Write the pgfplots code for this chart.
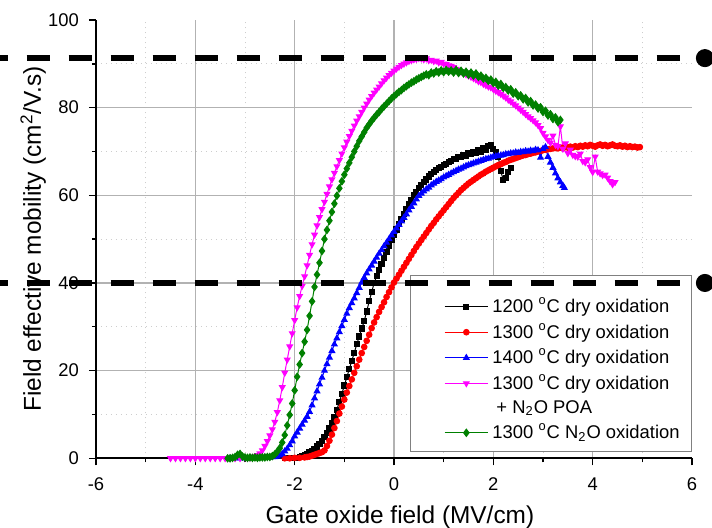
\documentclass[border=0pt]{standalone}
\usepackage{fontspec}
\setmainfont{Liberation Sans}
\usepackage{pgfplots}
\pgfplotsset{compat=1.18}
\definecolor{cK}{RGB}{0,0,0}
\definecolor{cR}{RGB}{255,0,0}
\definecolor{cB}{RGB}{0,0,255}
\definecolor{cM}{RGB}{255,0,255}
\definecolor{cG}{RGB}{0,128,0}
\definecolor{gridmaj}{RGB}{178,178,178}
\definecolor{gridmin}{RGB}{205,205,205}
\pgfplotsset{
 base/.style={width=298pt,height=219.15pt,scale only axis,xmin=-6,xmax=6,ymin=0,ymax=100},
}
\begin{document}
\begin{tikzpicture}
\begin{axis}[base,
 axis x line*=bottom, axis y line*=left, axis line style={line width=0.8pt,-},
 tick align=outside, major tick length=3.5pt, minor tick length=2pt,
 tick style={line width=0.7pt, black},
 xtick={-6,-4,-2,0,2,4}, extra x ticks={6}, extra x tick style={grid=none},
 ytick={0,20,40,60,80}, extra y ticks={100}, extra y tick style={grid=none},
 minor xtick={-5,-3,-1,1,3,5}, minor ytick={10,30,50,70,90},
 grid=both,
 major grid style={gridmaj, line width=0.6pt},
 minor grid style={gridmin, line width=0.5pt, dotted},
 ticklabel style={font=\fontsize{9.2}{11}\selectfont},
 xticklabel style={yshift=-2.5pt},
 yticklabel style={xshift=-1.5pt},
 /pgf/number format/assume math mode=true,
 xlabel={Gate oxide field (MV/cm)},
 ylabel={Field effective mobility (cm\textsuperscript{2}/V.s)},
 label style={font=\fontsize{12.2}{14}\selectfont},
 xlabel style={at={(axis description cs:0.51,-0.149)}, anchor=base},
 ylabel style={at={(axis description cs:-0.0923,0.5)}, anchor=base},
 legend style={at={(rel axis cs:1,0.0144)}, anchor=south east, draw=gray, fill=white,
   font=\fontsize{9.2}{11}\selectfont, inner xsep=4pt, inner ysep=3pt, row sep=0pt,
   nodes={inner ysep=2pt}, cells={anchor=west}},
 legend image code/.code={\path (-0.45cm,0cm); \draw[mark repeat=2,mark phase=2,#1] plot coordinates {(0cm,0cm) (0.38cm,0cm) (0.76cm,0cm)};},
]
\addlegendimage{empty legend}
\addlegendentry[inner ysep=0pt, text height=6pt, text depth=0pt]{}
\addplot[cK, line width=0.5pt, mark=square*, mark size=1.3pt, mark options={solid,fill=cK}] coordinates {
(-2.2,0)(-2.1,0)(-2.0,0.1)(-1.95,0.1)(-1.9,0.3)(-1.85,0.5)(-1.8,0.7)(-1.75,1.0)(-1.7,1.3)(-1.65,1.7)(-1.6,2.2)(-1.55,2.7)(-1.5,3.2)(-1.45,3.9)(-1.4,4.8)(-1.35,5.8)(-1.3,6.8)(-1.25,8.0)(-1.2,9.3)(-1.15,11.1)(-1.1,12.9)(-1.05,14.7)(-1.0,16.6)(-0.95,18.5)(-0.9,20.4)(-0.85,22.2)(-0.8,24.1)(-0.75,26.0)(-0.7,27.8)(-0.65,29.6)(-0.6,31.3)(-0.55,33.5)(-0.5,35.8)(-0.45,37.9)(-0.4,40.0)(-0.35,41.5)(-0.3,43.0)(-0.25,44.4)(-0.2,45.7)(-0.15,47.1)(-0.1,48.5)(-0.05,49.8)(0,51.0)(0.05,52.2)(0.1,53.4)(0.15,54.6)(0.2,55.8)(0.25,56.9)(0.3,58.0)(0.35,59.0)(0.4,60.0)(0.45,60.8)(0.5,61.7)(0.55,62.3)(0.6,63.1)(0.65,63.6)(0.7,64.3)(0.75,64.8)(0.8,65.4)(0.85,65.7)(0.9,66.3)(0.95,66.5)(1.0,67.0)(1.05,67.2)(1.1,67.6)(1.15,67.8)(1.2,68.2)(1.25,68.3)(1.3,68.7)(1.35,68.8)(1.4,69.2)(1.45,69.1)(1.5,69.6)(1.55,69.4)(1.6,69.9)(1.65,69.7)(1.7,70.3)(1.75,70.0)(1.8,70.7)(1.85,70.4)(1.9,71.2)(1.95,71.5)(2.0,70.6)(2.05,69.8)(2.1,68.8)(2.15,65.5)(2.2,63.5)(2.25,64.0)(2.3,65.3)(2.35,66.2)
};
\addlegendentry{1200 \textsuperscript{o}C dry oxidation}
\addplot[cR, line width=0.5pt, mark=*, mark size=1.4pt, mark options={solid,fill=cR}] coordinates {
(-2.2,0)(-2.1,0)(-2.0,0.1)(-1.9,0.1)(-1.8,0.2)(-1.75,0.3)(-1.7,0.4)(-1.65,0.6)(-1.6,0.8)(-1.55,1.0)(-1.5,1.2)(-1.45,1.4)(-1.4,1.8)(-1.35,2.8)(-1.3,4.0)(-1.25,5.4)(-1.2,6.9)(-1.15,8.5)(-1.1,10.2)(-1.05,11.8)(-1.0,13.4)(-0.95,15.0)(-0.9,16.5)(-0.85,18.0)(-0.8,19.5)(-0.75,21.0)(-0.7,22.5)(-0.65,24.0)(-0.6,25.4)(-0.55,26.8)(-0.5,28.2)(-0.45,29.7)(-0.4,31.0)(-0.35,32.2)(-0.3,33.4)(-0.25,34.5)(-0.2,35.6)(-0.15,36.8)(-0.1,37.9)(-0.05,39.0)(0,40.1)(0.05,41.0)(0.1,41.9)(0.15,42.8)(0.2,43.7)(0.25,44.6)(0.3,45.5)(0.35,46.4)(0.4,47.3)(0.45,48.2)(0.5,49.0)(0.55,49.8)(0.6,50.6)(0.65,51.4)(0.7,52.2)(0.75,53.0)(0.8,53.7)(0.85,54.5)(0.9,55.2)(0.95,55.9)(1.0,56.6)(1.05,57.3)(1.1,58.0)(1.15,58.7)(1.2,59.4)(1.25,60.0)(1.3,60.6)(1.35,61.2)(1.4,61.7)(1.45,62.2)(1.5,62.7)(1.55,63.1)(1.6,63.5)(1.65,63.9)(1.7,64.3)(1.75,64.7)(1.8,65.0)(1.85,65.4)(1.9,65.7)(1.95,66.0)(2.0,66.3)(2.05,66.6)(2.1,66.9)(2.15,67.1)(2.2,67.4)(2.25,67.6)(2.3,67.9)(2.35,68.1)(2.4,68.3)(2.45,68.5)(2.5,68.7)(2.55,68.9)(2.6,69.1)(2.65,69.2)(2.7,69.4)(2.75,69.5)(2.8,69.7)(2.85,69.8)(2.9,70.0)(2.95,70.1)(3.0,70.3)(3.05,70.4)(3.1,70.5)(3.15,70.6)(3.2,70.7)(3.25,70.8)(3.3,70.7)(3.35,70.9)(3.4,70.8)(3.45,71.0)(3.5,70.9)(3.55,71.1)(3.6,70.9)(3.65,71.2)(3.7,71.0)(3.75,71.3)(3.8,71.1)(3.85,71.4)(3.9,71.2)(3.95,71.5)(4.0,71.3)(4.05,71.1)(4.1,71.4)(4.15,71.6)(4.2,71.3)(4.25,71.5)(4.3,71.2)(4.35,71.4)(4.4,71.6)(4.45,71.3)(4.5,71.2)(4.55,71.4)(4.6,71.1)(4.65,71.3)(4.7,71.0)(4.75,71.2)(4.8,71.0)(4.85,71.1)(4.9,70.9)(4.95,71.0)
};
\addlegendentry{1300 \textsuperscript{o}C dry oxidation}
\addplot[cB, line width=0.5pt, mark=triangle*, mark size=1.6pt, mark options={solid,fill=cB}] coordinates {
(-3.3,0)(-3.2,0)(-3.1,0)(-3.0,0)(-2.9,0.1)(-2.8,0.1)(-2.7,0.1)(-2.6,0.2)(-2.5,0.2)(-2.45,0.3)(-2.4,0.3)(-2.35,0.4)(-2.3,0.7)(-2.25,1.0)(-2.2,1.6)(-2.15,2.2)(-2.1,3.0)(-2.05,3.9)(-2.0,5.0)(-1.95,5.9)(-1.9,6.8)(-1.85,7.7)(-1.8,8.6)(-1.75,9.5)(-1.7,10.6)(-1.65,12.1)(-1.6,13.7)(-1.55,15.3)(-1.5,16.9)(-1.45,18.4)(-1.4,20.0)(-1.35,21.5)(-1.3,23.0)(-1.25,24.5)(-1.2,26.0)(-1.15,27.4)(-1.1,28.8)(-1.05,30.2)(-1.0,31.6)(-0.95,33.0)(-0.9,34.3)(-0.85,35.4)(-0.8,36.5)(-0.75,37.7)(-0.7,38.9)(-0.65,40.1)(-0.6,41.2)(-0.55,42.2)(-0.5,43.1)(-0.45,44.0)(-0.4,44.9)(-0.35,45.8)(-0.3,46.7)(-0.25,47.5)(-0.2,48.4)(-0.15,49.2)(-0.1,50.0)(-0.05,50.9)(0,51.7)(0.05,52.5)(0.1,53.3)(0.15,54.1)(0.2,54.9)(0.25,55.7)(0.3,56.6)(0.35,57.4)(0.4,58.2)(0.45,59.1)(0.5,59.9)(0.55,60.4)(0.6,60.9)(0.65,61.4)(0.7,61.8)(0.75,62.3)(0.8,62.7)(0.85,63.1)(0.9,63.4)(0.95,63.7)(1.0,64.1)(1.05,64.4)(1.1,64.7)(1.15,65.0)(1.2,65.3)(1.25,65.6)(1.3,65.9)(1.35,66.1)(1.4,66.4)(1.45,66.7)(1.5,66.9)(1.55,67.1)(1.6,67.3)(1.65,67.5)(1.7,67.7)(1.75,67.9)(1.8,68.1)(1.85,68.3)(1.9,68.4)(1.95,68.6)(2.0,68.8)(2.05,68.9)(2.1,69.0)(2.15,69.1)(2.2,69.2)(2.25,69.4)(2.3,69.4)(2.35,69.6)(2.4,69.6)(2.45,69.8)(2.5,69.7)(2.55,69.9)(2.6,69.9)(2.65,70.1)(2.7,70.0)(2.75,70.2)(2.8,70.1)(2.85,70.4)(2.9,70.3)(2.95,68.6)(3.0,70.6)(3.05,71.0)(3.1,68.8)(3.15,67.5)(3.2,66.3)(3.25,65.0)(3.3,63.9)(3.35,63.0)(3.4,62.2)(3.43,61.7)
};
\addlegendentry{1400 \textsuperscript{o}C dry oxidation}
\addplot[cM, line width=0.5pt, mark=triangle*, mark size=1.6pt, mark options={solid,fill=cM,rotate=180}] coordinates {
(-4.5,0)(-4.4,0)(-4.3,0)(-4.2,0)(-4.1,0)(-4.0,0)(-3.9,0)(-3.8,0)(-3.7,0)(-3.6,0)(-3.5,0)(-3.4,0)(-3.3,0)(-3.2,0)(-3.1,0)(-3.0,0.1)(-2.95,0.1)(-2.9,0.1)(-2.85,0.2)(-2.8,0.4)(-2.75,0.7)(-2.7,1.1)(-2.65,1.8)(-2.6,2.8)(-2.55,3.9)(-2.5,5.2)(-2.45,6.6)(-2.4,8.3)(-2.35,10.5)(-2.3,13.2)(-2.25,16.2)(-2.2,19.5)(-2.15,22.5)(-2.1,25.5)(-2.05,28.5)(-2.0,31.5)(-1.95,34.4)(-1.9,37.0)(-1.85,39.3)(-1.8,41.5)(-1.75,44.0)(-1.7,46.4)(-1.65,48.8)(-1.6,51.0)(-1.55,53.1)(-1.5,55.0)(-1.45,56.8)(-1.4,58.5)(-1.35,60.3)(-1.3,62.0)(-1.25,63.6)(-1.2,65.1)(-1.15,66.6)(-1.1,68.0)(-1.05,69.5)(-1.0,70.9)(-0.95,72.2)(-0.9,73.5)(-0.85,74.7)(-0.8,75.9)(-0.75,77.0)(-0.7,78.0)(-0.65,79.0)(-0.6,80.0)(-0.55,80.9)(-0.5,81.8)(-0.45,82.6)(-0.4,83.4)(-0.35,84.1)(-0.3,84.8)(-0.25,85.5)(-0.2,86.2)(-0.15,86.8)(-0.1,87.4)(-0.05,87.9)(0,88.4)(0.05,88.9)(0.1,89.3)(0.15,89.7)(0.2,90.0)(0.25,90.3)(0.3,90.6)(0.35,90.8)(0.4,91.0)(0.45,91.1)(0.5,91.3)(0.55,91.2)(0.6,91.0)(0.65,91.2)(0.7,90.8)(0.75,90.9)(0.8,90.6)(0.85,90.7)(0.9,90.3)(0.95,90.4)(1.0,90.0)(1.05,89.9)(1.1,89.6)(1.15,89.5)(1.2,89.2)(1.25,88.8)(1.3,88.6)(1.35,88.2)(1.4,88.0)(1.45,87.6)(1.5,87.3)(1.55,87.0)(1.6,86.7)(1.65,86.4)(1.7,86.0)(1.75,85.8)(1.8,85.4)(1.85,85.1)(1.9,84.8)(1.95,84.6)(2.0,84.2)(2.05,83.8)(2.1,83.5)(2.15,83.1)(2.2,82.7)(2.25,82.3)(2.3,81.8)(2.35,81.4)(2.4,80.9)(2.45,80.5)(2.5,80.0)(2.55,79.5)(2.6,79.0)(2.65,78.5)(2.7,78.0)(2.75,77.6)(2.8,77.1)(2.85,76.6)(2.9,76.0)(2.95,75.3)(3.0,74.2)(3.05,73.4)(3.1,72.6)(3.15,72.0)(3.2,73.6)(3.25,71.5)(3.3,71.2)(3.35,75.7)(3.4,70.6)(3.45,71.8)(3.5,69.6)(3.55,70.4)(3.6,69.2)(3.65,68.9)(3.7,68.8)(3.75,69.5)(3.8,67.8)(3.85,67.5)(3.9,68.2)(3.95,66.4)(4.0,65.3)(4.05,68.8)(4.1,65.4)(4.15,65.0)(4.2,64.6)(4.25,64.7)(4.3,64.0)(4.35,63.2)(4.4,62.5)(4.45,63.0)
};
\addlegendentry{1300 \textsuperscript{o}C dry oxidation}
\addlegendimage{empty legend}
\addlegendentry{\hspace{2pt}+ N\textsubscript{2}O POA\rule[-4.5pt]{0pt}{4.5pt}}
\addplot[cG, line width=0.5pt, mark=diamond*, mark size=1.8pt, mark options={solid,fill=cG}] coordinates {
(-3.35,0)(-3.3,0)(-3.25,0.1)(-3.2,0.3)(-3.15,0.8)(-3.1,1.0)(-3.05,0.4)(-3.0,0.2)(-2.95,0.1)(-2.9,0.2)(-2.85,0.1)(-2.8,0.2)(-2.75,0.1)(-2.7,0.2)(-2.65,0.2)(-2.6,0.2)(-2.55,0.3)(-2.5,0.3)(-2.45,0.5)(-2.4,0.9)(-2.35,1.5)(-2.3,2.3)(-2.25,3.6)(-2.2,5.3)(-2.15,7.5)(-2.1,9.9)(-2.05,12.5)(-2.0,15.5)(-1.95,18.6)(-1.9,21.4)(-1.85,24.0)(-1.8,26.6)(-1.75,29.3)(-1.7,32.5)(-1.65,35.8)(-1.6,39.1)(-1.55,41.9)(-1.5,44.6)(-1.45,47.3)(-1.4,50.0)(-1.35,52.1)(-1.3,54.2)(-1.25,56.2)(-1.2,58.1)(-1.15,59.9)(-1.1,61.6)(-1.05,63.2)(-1.0,64.7)(-0.95,66.1)(-0.9,67.4)(-0.85,68.7)(-0.8,70.0)(-0.75,71.2)(-0.7,72.4)(-0.65,73.4)(-0.6,74.4)(-0.55,75.4)(-0.5,76.2)(-0.45,77.0)(-0.4,77.7)(-0.35,78.4)(-0.3,79.0)(-0.25,79.7)(-0.2,80.3)(-0.15,80.9)(-0.1,81.5)(-0.05,82.1)(0,82.6)(0.05,83.1)(0.1,83.6)(0.15,84.0)(0.2,84.5)(0.25,84.9)(0.3,85.3)(0.35,85.7)(0.4,86.0)(0.45,86.4)(0.5,86.7)(0.55,87.0)(0.6,87.3)(0.65,87.6)(0.7,87.4)(0.75,88.0)(0.8,87.8)(0.85,88.3)(0.9,88.0)(0.95,88.5)(1.0,88.1)(1.05,88.6)(1.1,88.2)(1.15,88.5)(1.2,88.0)(1.25,88.6)(1.3,87.9)(1.35,88.4)(1.4,87.8)(1.45,88.2)(1.5,87.5)(1.55,88.0)(1.6,87.3)(1.65,87.8)(1.7,87.0)(1.75,87.3)(1.8,86.6)(1.85,86.8)(1.9,86.1)(1.95,86.4)(2.0,85.6)(2.05,85.9)(2.1,85.0)(2.15,85.4)(2.2,84.5)(2.25,84.7)(2.3,83.9)(2.35,84.2)(2.4,83.2)(2.45,83.5)(2.5,82.6)(2.55,82.8)(2.6,81.9)(2.65,82.2)(2.7,81.2)(2.75,81.5)(2.8,80.5)(2.85,80.7)(2.9,79.8)(2.95,80.1)(3.0,79.0)(3.05,79.3)(3.1,78.2)(3.15,78.5)(3.2,77.4)(3.25,77.8)(3.3,76.7)(3.35,77.2)
};
\addlegendentry{1300 \textsuperscript{o}C N\textsubscript{2}O oxidation}
\end{axis}
\begin{axis}[base, hide axis, clip=false]
\addplot[black, line width=3pt, dash pattern=on 11.8pt off 9.2pt, dash phase=6pt, mark=*, mark indices={2}, mark size=4.3pt, mark options={solid, line width=0.4pt, fill=black}] coordinates {(-8,91.3)(6.26,91.3)};
\addplot[black, line width=3pt, dash pattern=on 11.8pt off 9.2pt, dash phase=6pt, mark=*, mark indices={2}, mark size=4.3pt, mark options={solid, line width=0.4pt, fill=black}] coordinates {(-8,40)(6.26,40)};
\coordinate (bbll) at (rel axis cs:-0.16107,-0.15902);
\coordinate (bbur) at (rel axis cs:1.03356,1.04563);
\end{axis}
\pgfresetboundingbox
\path[use as bounding box] (bbll) rectangle (bbur);
\end{tikzpicture}
\end{document}
